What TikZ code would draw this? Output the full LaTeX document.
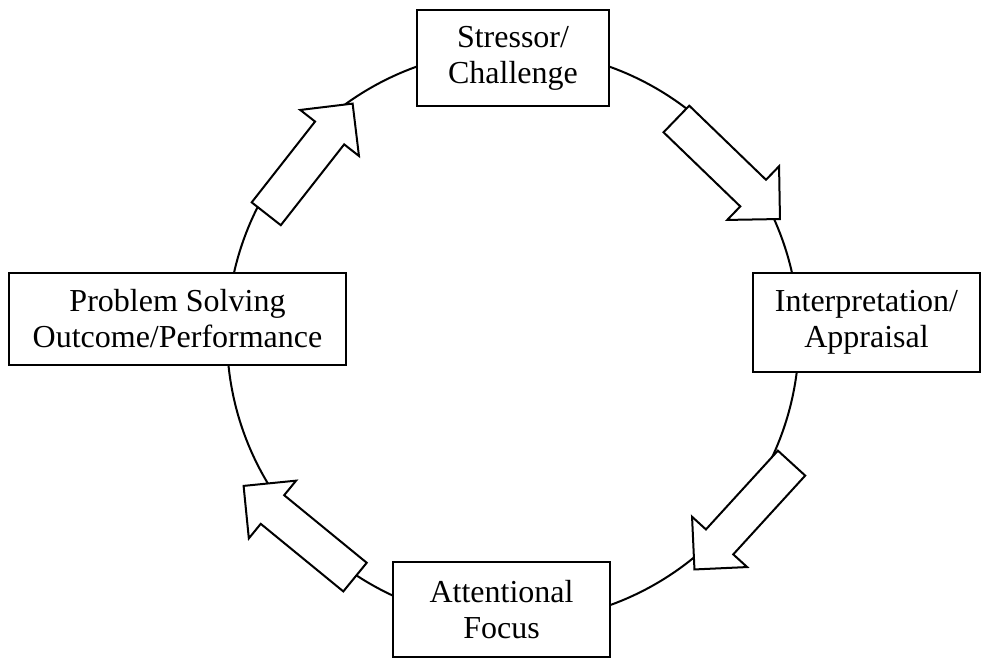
\documentclass[tikz,border=0pt]{standalone}
\usepackage{fontspec}
\setmainfont{Liberation Serif}
\usetikzlibrary{shapes.arrows}

\tikzset{
  stagebox/.style={draw, line width=1pt, fill=white, align=center, inner sep=0pt,
    font=\fontsize{16pt}{18pt}\selectfont},
  flowarrow/.style={single arrow, draw, line width=1pt, fill=white, inner xsep=0pt, inner ysep=8.75pt,
    minimum height=72pt, minimum width=36.25pt, single arrow head extend=9.4pt, anchor=tip}
}

\begin{document}
\begin{tikzpicture}[x=0.5pt, y=-0.5pt]
  %%%%% START %%%%%
  \useasboundingbox (0,0) rectangle (982,658);

  \draw[line width=1pt] (513,336) circle (143pt);

  \node[stagebox, minimum width=96pt, minimum height=48pt] (stressor) at (513,58) {Stressor/\\Challenge};
  \node[stagebox, minimum width=113.5pt, minimum height=49.5pt] (appraisal) at (866.5,322.5) {Interpretation/\\Appraisal};
  \node[stagebox, minimum width=108.5pt, minimum height=47.5pt] (focus) at (501.5,609.5) {Attentional\\Focus};
  \node[stagebox, minimum width=168.5pt, minimum height=46pt] (outcome) at (177.5,319) {Problem Solving\\Outcome/Performance};

  \node[flowarrow, rotate=-44] (arrA) at (781,220) {};
  \node[flowarrow, rotate=-132.4] (arrB) at (693.5,570.5) {};
  \node[flowarrow, rotate=140.7] (arrC) at (242.5,485) {};
  \node[flowarrow, rotate=51.9, minimum height=70pt] (arrD) at (353.5,102.5) {};

  %%%%% END %%%%%
\end{tikzpicture}
\end{document}
